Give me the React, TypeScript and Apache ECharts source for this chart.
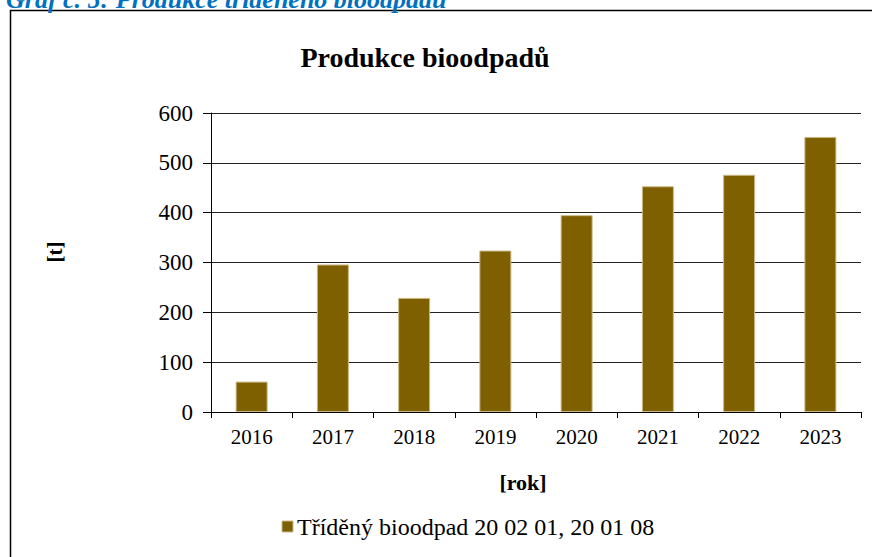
import React, { useEffect, useRef } from "react";
import * as echarts from "echarts";

const years = ["2016", "2017", "2018", "2019", "2020", "2021", "2022", "2023"];
const bioodpad = [61, 296, 229, 324, 395, 453, 476, 552];
const seriesName = "Tříděný bioodpad 20 02 01, 20 01 08";
const chartTitle = "Produkce bioodpadů";
const caption = "Graf č. 5: Produkce tříděného bioodpadu";
const yName = "[t]";
const xName = "[rok]";

const SERIF = "Liberation Serif";
const BAR_COLOR = "#7f6000";
const BAR_BORDER = "#cbb886";

export default function App() {
  const ref = useRef<HTMLDivElement>(null);
  useEffect(() => {
    if (!ref.current) return;
    const chart = echarts.init(ref.current, undefined, { renderer: "svg" });
    chart.setOption({
      animation: false,
      backgroundColor: "#ffffff",
      textStyle: { fontFamily: SERIF },
      grid: { left: 211, right: 11, top: 113, bottom: 145 },
      xAxis: {
        type: "category",
        data: years,
        axisLine: { lineStyle: { color: "#000", width: 1 } },
        axisTick: { show: true, length: 6, lineStyle: { color: "#000" } },
        axisLabel: { color: "#000", fontFamily: SERIF, fontSize: 21, margin: 14 },
      },
      yAxis: {
        type: "value",
        min: 0,
        max: 600,
        interval: 100,
        axisLine: { show: true, lineStyle: { color: "#000", width: 1 } },
        axisTick: { show: true, length: 8, lineStyle: { color: "#000" } },
        axisLabel: { color: "#000", fontFamily: SERIF, fontSize: 23, margin: 18 },
        splitLine: { show: true, lineStyle: { color: "#222", width: 1 } },
      },
      legend: { show: false },
      series: [
        {
          name: seriesName,
          type: "bar",
          data: bioodpad,
          barWidth: 32,
          itemStyle: { color: BAR_COLOR, borderColor: BAR_BORDER, borderWidth: 1 },
        },
      ],
      graphic: [
        {
          type: "rect",
          shape: { x: 10.5, y: 10.5, width: 900, height: 600 },
          style: { fill: "none", stroke: "#000", lineWidth: 1.5 },
          silent: true,
        },
        {
          type: "text",
          x: 6,
          y: 12,
          style: {
            text: caption,
            fill: "#0070c0",
            font: `italic bold 26px ${SERIF}`,
            textAlign: "left",
            textVerticalAlign: "bottom",
          },
        },
        {
          type: "text",
          x: 425,
          y: 57,
          style: {
            text: chartTitle,
            fill: "#000",
            font: `bold 28px ${SERIF}`,
            textAlign: "center",
            textVerticalAlign: "middle",
          },
        },
        {
          type: "text",
          x: 55,
          y: 252,
          rotation: Math.PI / 2,
          style: {
            text: yName,
            fill: "#000",
            font: `bold 21px ${SERIF}`,
            textAlign: "center",
            textVerticalAlign: "middle",
          },
        },
        {
          type: "text",
          x: 523,
          y: 482,
          style: {
            text: xName,
            fill: "#000",
            font: `bold 22px ${SERIF}`,
            textAlign: "center",
            textVerticalAlign: "middle",
          },
        },
        {
          type: "rect",
          shape: { x: 282, y: 521, width: 11, height: 11 },
          style: { fill: BAR_COLOR, stroke: BAR_BORDER, lineWidth: 1 },
        },
        {
          type: "text",
          x: 297,
          y: 527,
          style: {
            text: seriesName,
            fill: "#000",
            font: `24px ${SERIF}`,
            textAlign: "left",
            textVerticalAlign: "middle",
          },
        },
      ],
    });
    return () => chart.dispose();
  }, []);
  return (
    <div
      ref={ref}
      style={{ position: "absolute", left: 0, top: 0, width: 872, height: 557 }}
    />
  );
}
